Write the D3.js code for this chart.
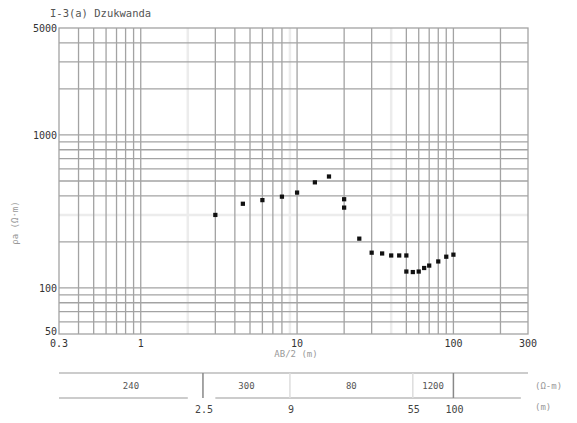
<!DOCTYPE html>
<html>
<head>
<meta charset="utf-8">
<script src="https://cdn.jsdelivr.net/npm/d3@7"></script>
<style>
  body { margin: 0; background: #fff; }
  text { font-family: "DejaVu Sans Mono", monospace; }
</style>
</head>
<body>
<div id="chart"></div>
<script>
// sounding data
const spacing = [3, 4.5, 6, 8, 10, 13, 16, 20, 20, 25, 30, 35, 40, 45, 50, 50, 55, 60, 65, 70, 80, 90, 100];
const rhoA = [300, 355, 375, 395, 420, 490, 535, 380, 335, 210, 170, 168, 163, 163, 163, 128, 127, 128, 135, 140, 149, 160, 165];

// grid + labels
const xGrid = [0.4,0.5,0.6,0.7,0.8,0.9,1,2,3,4,5,6,7,8,9,10,20,30,40,50,60,70,80,90,100,200];
const xFaint = [2, 9, 40];
const xTickLabels = [0.3, 1, 10, 100, 300];
const yGrid = [60,70,80,90,100,200,300,400,500,600,700,800,900,1000,2000,3000,4000];
const yFaint = [300];
const yTickLabels = [50, 100, 1000, 5000];

// layer model
const layerDepth = [2.5, 9, 55, 100];
const layerRho = ["240", "300", "80", "1200"];

const W = 577, H = 423;
const m = {l: 59, r: 49, t: 28, b: 89};

const svg = d3.select("#chart").append("svg")
    .attr("width", W).attr("height", H);

const x = d3.scaleLog().domain([0.3, 300]).range([m.l, W - m.r]);
const y = d3.scaleLog().domain([50, 5000]).range([H - m.b, m.t]);

// title
svg.append("text").attr("x", 50).attr("y", 17)
    .attr("font-size", 10.5).attr("fill", "#555")
    .text("I-3(a) Dzukwanda");

// grid lines
const g = svg.append("g");
g.selectAll(".vf").data(xFaint).enter().append("line")
    .attr("x1", d => x(d)).attr("x2", d => x(d))
    .attr("y1", y(5000)).attr("y2", y(50))
    .attr("stroke", "#ececec").attr("stroke-width", 2.5);
g.selectAll(".hf").data(yFaint).enter().append("line")
    .attr("y1", d => y(d)).attr("y2", d => y(d))
    .attr("x1", x(0.3)).attr("x2", x(300))
    .attr("stroke", "#ececec").attr("stroke-width", 2.5);
g.selectAll(".v").data(xGrid.filter(d => xFaint.indexOf(d) < 0)).enter().append("line")
    .attr("x1", d => x(d)).attr("x2", d => x(d))
    .attr("y1", y(5000)).attr("y2", y(50))
    .attr("stroke", "#a3a3a3").attr("stroke-width", 1.3);
g.selectAll(".h").data(yGrid.filter(d => yFaint.indexOf(d) < 0)).enter().append("line")
    .attr("y1", d => y(d)).attr("y2", d => y(d))
    .attr("x1", x(0.3)).attr("x2", x(300))
    .attr("stroke", "#a3a3a3").attr("stroke-width", 1.3);
g.append("rect")
    .attr("x", x(0.3)).attr("y", y(5000))
    .attr("width", x(300) - x(0.3)).attr("height", y(50) - y(5000))
    .attr("fill", "none").attr("stroke", "#a3a3a3").attr("stroke-width", 1.3);

// tick labels
svg.selectAll(".xl").data(xTickLabels).enter().append("text")
    .attr("x", d => x(d)).attr("y", y(50) + 13)
    .attr("text-anchor", "middle").attr("font-size", 10).attr("fill", "#333")
    .text(d => d);
svg.selectAll(".yl").data(yTickLabels).enter().append("text")
    .attr("x", x(0.3) - 2).attr("y", d => y(d) + (d == 50 ? 1 : 4))
    .attr("text-anchor", "end").attr("font-size", 10).attr("fill", "#333")
    .text(d => d);

// axis titles
svg.append("text").attr("x", 296).attr("y", 357)
    .attr("text-anchor", "middle").attr("font-size", 9).attr("fill", "#999")
    .text("AB/2 (m)");
svg.append("text")
    .attr("transform", "translate(18,223) rotate(-90)")
    .attr("text-anchor", "middle").attr("font-size", 9).attr("fill", "#999")
    .text("ρa (Ω·m)");

// points
svg.selectAll(".pt").data(spacing).enter().append("path")
    .attr("transform", (d, i) => "translate(" + x(d) + "," + y(rhoA[i]) + ")")
    .attr("d", d3.symbol().type(d3.symbolSquare).size(18))
    .attr("fill", "#111");

// layer table
const tTop = 373, tBot = 398;
const tab = svg.append("g").attr("stroke", "#bbb").attr("stroke-width", 1.5);
tab.append("line").attr("x1", x(0.3)).attr("x2", x(300)).attr("y1", tTop).attr("y2", tTop);
tab.append("line").attr("x1", x(0.3)).attr("x2", x(2)).attr("y1", tBot).attr("y2", tBot);
tab.append("line").attr("x1", x(3)).attr("x2", x(270)).attr("y1", tBot).attr("y2", tBot);
tab.selectAll(".sep").data(layerDepth).enter().append("line")
    .attr("x1", d => x(d)).attr("x2", d => x(d))
    .attr("y1", tTop).attr("y2", tBot)
    .attr("stroke", (d, i) => (i == 1 || i == 2) ? "#ddd" : "#888");

const tops = [0.3].concat(layerDepth.slice(0, -1));
svg.selectAll(".rho").data(layerRho).enter().append("text")
    .attr("x", (d, i) => x(Math.sqrt(tops[i] * layerDepth[i])))
    .attr("y", 389).attr("text-anchor", "middle")
    .attr("font-size", 9).attr("fill", "#555")
    .text(d => d);
svg.selectAll(".dep").data(layerDepth).enter().append("text")
    .attr("x", d => x(d) + 1).attr("y", 413).attr("text-anchor", "middle")
    .attr("font-size", 10).attr("fill", "#444")
    .text(d => d);
svg.append("text").attr("x", 535).attr("y", 389)
    .attr("font-size", 9).attr("fill", "#999").text("(Ω-m)");
svg.append("text").attr("x", 535).attr("y", 410)
    .attr("font-size", 9).attr("fill", "#999").text("(m)");
</script>
</body>
</html>
